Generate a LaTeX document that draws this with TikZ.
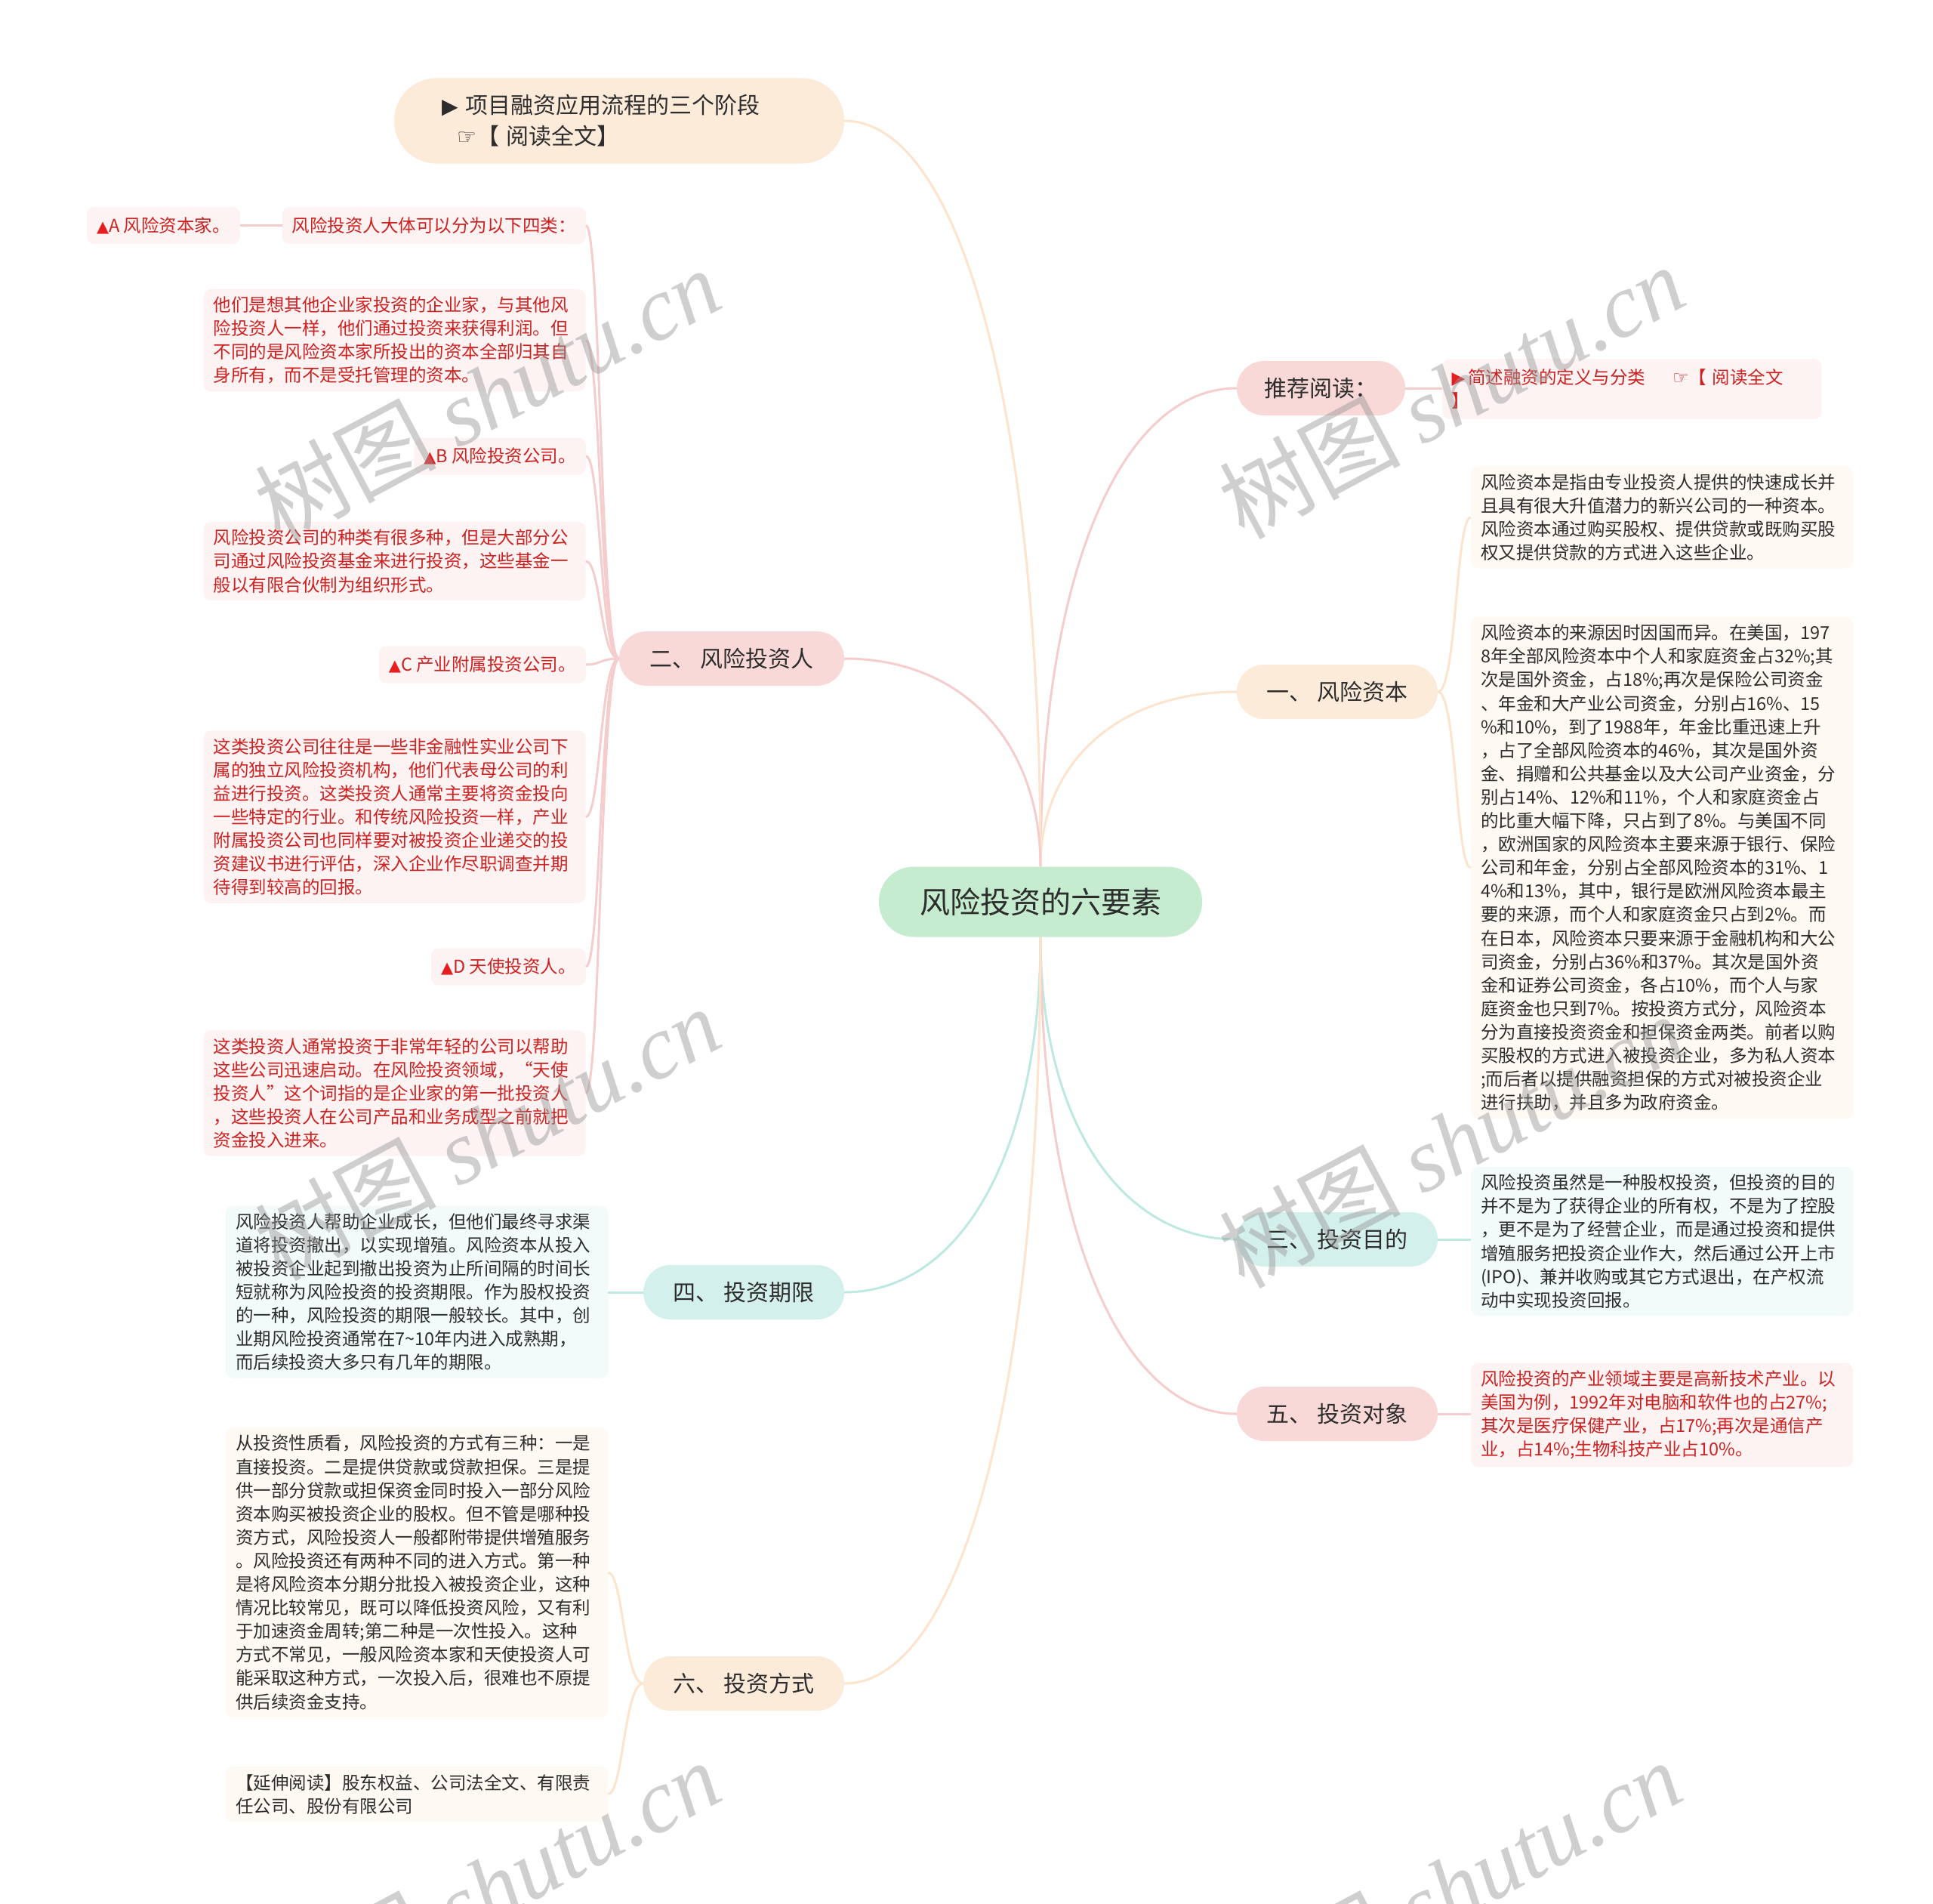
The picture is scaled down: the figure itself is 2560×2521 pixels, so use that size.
\documentclass[tikz,border=0pt]{standalone}
\usepackage{fontspec}
\setmainfont{Noto Sans CJK SC}
\newfontfamily\symfont{DejaVu Sans}
\newfontfamily\wmserif{Liberation Serif}
\usetikzlibrary{calc}
\definecolor{redtxt}{RGB}{204,34,34}
\definecolor{redtri}{RGB}{230,30,30}
\definecolor{darktxt}{RGB}{45,45,45}
\definecolor{pinkfill}{RGB}{249,216,216}
\definecolor{peachfill}{RGB}{253,235,218}
\definecolor{tealfill}{RGB}{212,240,236}
\definecolor{greenfill}{RGB}{197,236,206}
\definecolor{leafpink}{RGB}{253,243,243}
\definecolor{leafpeach}{RGB}{254,249,243}
\definecolor{leafteal}{RGB}{243,250,250}
\definecolor{linepink}{RGB}{246,205,205}
\definecolor{linepeach}{RGB}{252,228,205}
\definecolor{lineteal}{RGB}{190,232,226}
\definecolor{wmgray}{RGB}{150,150,150}
\tikzset{
  centerbox/.style={fill=greenfill, rounded corners=46pt, minimum width=428pt, minimum height=93pt,
    text=darktxt, font=\fontsize{40}{46}\selectfont},
  bigbox/.style={rounded corners=36pt, minimum height=72pt, text=darktxt, font=\fontsize{30}{36}\selectfont},
  leafbox/.style={rounded corners=10pt, align=left, text width=480pt, inner xsep=13pt, inner ysep=10pt,
    font=\fontsize{23.5}{31.1}\selectfont},
  shortleaf/.style={rounded corners=10pt, inner xsep=13pt, minimum height=49pt, text=redtxt, fill=leafpink,
    font=\fontsize{23.5}{28}\selectfont},
  conn/.style={line width=3pt},
  wm/.style={text=wmgray, opacity=0.45, font=\fontsize{120}{120}\selectfont, rotate=28},
}
\newcommand{\tri}{{\symfont\color{redtri}\fontsize{21}{24}\selectfont ▲}}
\begin{document}
\begin{tikzpicture}[x=1pt,y=-1pt]
\useasboundingbox (0,0) rectangle (2560,2521);
\fill[white] (0,0) rectangle (2560,2521);

% center
\node[centerbox] (c) at (1378,1194) {风险投资的六要素};

% right branches
\node[bigbox, fill=pinkfill, minimum width=223pt] (tj) at (1749.5,514) {推荐阅读：};
\node[bigbox, fill=peachfill, minimum width=266pt] (r1) at (1771,916) {一、 风险资本};
\node[bigbox, fill=tealfill, minimum width=266pt] (r3) at (1771,1641) {三、 投资目的};
\node[bigbox, fill=pinkfill, minimum width=266pt] (r5) at (1771,1872) {五、 投资对象};

% left branches
\node[bigbox, fill=peachfill, rounded corners=56pt, minimum width=596pt, minimum height=113pt,
  align=left, text width=470pt, font=\fontsize{30}{41}\selectfont] (tl) at (820,160)
  {{\symfont\fontsize{28}{30}\selectfont ▶} 项目融资应用流程的三个阶段\\
   \hspace*{20pt}{\symfont\fontsize{29}{30}\selectfont ☞}【 阅读全文】};
\node[bigbox, fill=pinkfill, minimum width=298pt] (l2) at (969,872) {二、 风险投资人};
\node[bigbox, fill=tealfill, minimum width=266pt] (l4) at (985,1711) {四、 投资期限};
\node[bigbox, fill=peachfill, minimum width=266pt] (l6) at (985,2229) {六、 投资方式};

% right leaves
\node[leafbox, fill=leafpink, text=redtxt, text width=478pt, inner xsep=12pt, minimum height=80pt] (tjl) at (2161.5,515)
  {{\symfont\color{redtri}\fontsize{23}{26}\selectfont ▶}\,简述融资的定义与分类\hspace{36pt}{\symfont\fontsize{24}{26}\selectfont ☞}【 阅读全文\\】};
\node[leafbox, fill=leafpeach, text=darktxt] (r1a) at (2201,685)
  {风险资本是指由专业投资人提供的快速成长并\\
   且具有很大升值潜力的新兴公司的一种资本。\\
   风险资本通过购买股权、提供贷款或既购买股\\
   权又提供贷款的方式进入这些企业。};
\node[leafbox, fill=leafpeach, text=darktxt] (r1b) at (2201,1149)
  {风险资本的来源因时因国而异。在美国，197\\
   8年全部风险资本中个人和家庭资金占32\%;其\\
   次是国外资金，占18\%;再次是保险公司资金\\
   、年金和大产业公司资金，分别占16\%、15\\
   \%和10\%，到了1988年，年金比重迅速上升\\
   ，占了全部风险资本的46\%，其次是国外资\\
   金、捐赠和公共基金以及大公司产业资金，分\\
   别占14\%、12\%和11\%，个人和家庭资金占\\
   的比重大幅下降，只占到了8\%。与美国不同\\
   ，欧洲国家的风险资本主要来源于银行、保险\\
   公司和年金，分别占全部风险资本的31\%、1\\
   4\%和13\%，其中，银行是欧洲风险资本最主\\
   要的来源，而个人和家庭资金只占到2\%。而\\
   在日本，风险资本只要来源于金融机构和大公\\
   司资金，分别占36\%和37\%。其次是国外资\\
   金和证券公司资金，各占10\%，而个人与家\\
   庭资金也只到7\%。按投资方式分，风险资本\\
   分为直接投资资金和担保资金两类。前者以购\\
   买股权的方式进入被投资企业，多为私人资本\\
   ;而后者以提供融资担保的方式对被投资企业\\
   进行扶助，并且多为政府资金。};
\node[leafbox, fill=leafteal, text=darktxt] (r3a) at (2201,1643.5)
  {风险投资虽然是一种股权投资，但投资的目的\\
   并不是为了获得企业的所有权，不是为了控股\\
   ，更不是为了经营企业，而是通过投资和提供\\
   增殖服务把投资企业作大，然后通过公开上市\\
   (IPO)、兼并收购或其它方式退出，在产权流\\
   动中实现投资回报。};
\node[leafbox, fill=leafpink, text=redtxt] (r5a) at (2201,1873.5)
  {风险投资的产业领域主要是高新技术产业。以\\
   美国为例，1992年对电脑和软件也的占27\%;\\
   其次是医疗保健产业，占17\%;再次是通信产\\
   业，占14\%;生物科技产业占10\%。};

% left leaves of 二
\node[shortleaf, anchor=east] (q0) at (776,298.5) {风险投资人大体可以分为以下四类：};
\node[shortleaf, anchor=east] (qa) at (318,298.5) {\tri A 风险资本家。};
\node[leafbox, fill=leafpink, text=redtxt] (qa2) at (522.5,450.5)
  {他们是想其他企业家投资的企业家，与其他风\\
   险投资人一样，他们通过投资来获得利润。但\\
   不同的是风险资本家所投出的资本全部归其自\\
   身所有，而不是受托管理的资本。};
\node[shortleaf, anchor=east] (qb) at (776,604) {\tri B 风险投资公司。};
\node[leafbox, fill=leafpink, text=redtxt] (qb2) at (522.5,743)
  {风险投资公司的种类有很多种，但是大部分公\\
   司通过风险投资基金来进行投资，这些基金一\\
   般以有限合伙制为组织形式。};
\node[shortleaf, anchor=east] (qc) at (776,880) {\tri C 产业附属投资公司。};
\node[leafbox, fill=leafpink, text=redtxt] (qc2) at (522.5,1081.5)
  {这类投资公司往往是一些非金融性实业公司下\\
   属的独立风险投资机构，他们代表母公司的利\\
   益进行投资。这类投资人通常主要将资金投向\\
   一些特定的行业。和传统风险投资一样，产业\\
   附属投资公司也同样要对被投资企业递交的投\\
   资建议书进行评估，深入企业作尽职调查并期\\
   待得到较高的回报。};
\node[shortleaf, anchor=east] (qd) at (776,1280) {\tri D 天使投资人。};
\node[leafbox, fill=leafpink, text=redtxt] (qd2) at (522.5,1447.5)
  {这类投资人通常投资于非常年轻的公司以帮助\\
   这些公司迅速启动。在风险投资领域，“天使\\
   投资人”这个词指的是企业家的第一批投资人\\
   ，这些投资人在公司产品和业务成型之前就把\\
   资金投入进来。};

% left leaves of 四 and 六
\node[leafbox, fill=leafteal, text=darktxt] (l4a) at (552,1710.5)
  {风险投资人帮助企业成长，但他们最终寻求渠\\
   道将投资撤出，以实现增殖。风险资本从投入\\
   被投资企业起到撤出投资为止所间隔的时间长\\
   短就称为风险投资的投资期限。作为股权投资\\
   的一种，风险投资的期限一般较长。其中，创\\
   业期风险投资通常在7\textasciitilde 10年内进入成熟期，\\
   而后续投资大多只有几年的期限。};
\node[leafbox, fill=leafpeach, text=darktxt] (l6a) at (552,2082)
  {从投资性质看，风险投资的方式有三种：一是\\
   直接投资。二是提供贷款或贷款担保。三是提\\
   供一部分贷款或担保资金同时投入一部分风险\\
   资本购买被投资企业的股权。但不管是哪种投\\
   资方式，风险投资人一般都附带提供增殖服务\\
   。风险投资还有两种不同的进入方式。第一种\\
   是将风险资本分期分批投入被投资企业，这种\\
   情况比较常见，既可以降低投资风险，又有利\\
   于加速资金周转;第二种是一次性投入。这种\\
   方式不常见，一般风险资本家和天使投资人可\\
   能采取这种方式，一次投入后，很难也不原提\\
   供后续资金支持。};
\node[leafbox, fill=leafpeach, text=darktxt] (l6b) at (552,2375.5)
  {【延伸阅读】股东权益、公司法全文、有限责\\
   任公司、股份有限公司};

% connectors from center
\draw[conn, linepink] (c.north) .. controls ($(c.north)!0.6!(c.north |- tj.west)$) and ($(tj.west)!0.6!(c.north |- tj.west)$) .. (tj.west);
\draw[conn, linepeach] (c.north) .. controls ($(c.north)!0.6!(c.north |- r1.west)$) and ($(r1.west)!0.6!(c.north |- r1.west)$) .. (r1.west);
\draw[conn, lineteal] (c.south) .. controls ($(c.south)!0.6!(c.south |- r3.west)$) and ($(r3.west)!0.6!(c.south |- r3.west)$) .. (r3.west);
\draw[conn, linepink] (c.south) .. controls ($(c.south)!0.6!(c.south |- r5.west)$) and ($(r5.west)!0.6!(c.south |- r5.west)$) .. (r5.west);
\draw[conn, linepeach] (c.north) .. controls ($(c.north)!0.6!(c.north |- tl.east)$) and ($(tl.east)!0.6!(c.north |- tl.east)$) .. (tl.east);
\draw[conn, linepink] (c.north) .. controls ($(c.north)!0.6!(c.north |- l2.east)$) and ($(l2.east)!0.6!(c.north |- l2.east)$) .. (l2.east);
\draw[conn, lineteal] (c.south) .. controls ($(c.south)!0.6!(c.south |- l4.east)$) and ($(l4.east)!0.6!(c.south |- l4.east)$) .. (l4.east);
\draw[conn, linepeach] (c.south) .. controls ($(c.south)!0.6!(c.south |- l6.east)$) and ($(l6.east)!0.6!(c.south |- l6.east)$) .. (l6.east);

% branch to leaves (right)
\draw[conn, linepink] (tj.east) -- (tjl.west |- tj.east);
\draw[conn, linepeach] (r1.east) .. controls +(25,0) and +(-20,0) .. (r1a.west);
\draw[conn, linepeach] (r1.east) .. controls +(25,0) and +(-20,0) .. (r1b.west);
\draw[conn, lineteal] (r3.east) -- (r3a.west |- r3.east);
\draw[conn, linepink] (r5.east) -- (r5a.west |- r5.east);

% branch to leaves (left)
\foreach \t in {q0,qa2,qb,qb2,qc,qc2,qd,qd2}
  \draw[conn, linepink] (l2.west) .. controls +(-25,0) and +(20,0) .. (\t.east);
\draw[conn, linepink] (q0.west) -- (qa.east);
\draw[conn, lineteal] (l4.west) -- (l4a.east |- l4.west);
\draw[conn, linepeach] (l6.west) .. controls +(-25,0) and +(20,0) .. (l6a.east);
\draw[conn, linepeach] (l6.west) .. controls +(-25,0) and +(20,0) .. (l6b.east);

% watermarks
\node[wm] (wm1) at (645,522) {树图 {\wmserif\itshape shutu.cn}};
\node[wm] (wm2) at (1922,518) {树图 {\wmserif\itshape shutu.cn}};
\node[wm] (wm3) at (645,1500) {树图 {\wmserif\itshape shutu.cn}};
\node[wm] (wm4) at (1922,1510) {树图 {\wmserif\itshape shutu.cn}};
\node[wm] (wm5) at (645,2498) {树图 {\wmserif\itshape shutu.cn}};
\node[wm] (wm6) at (1918,2498) {树图 {\wmserif\itshape shutu.cn}};
\end{tikzpicture}
\end{document}
